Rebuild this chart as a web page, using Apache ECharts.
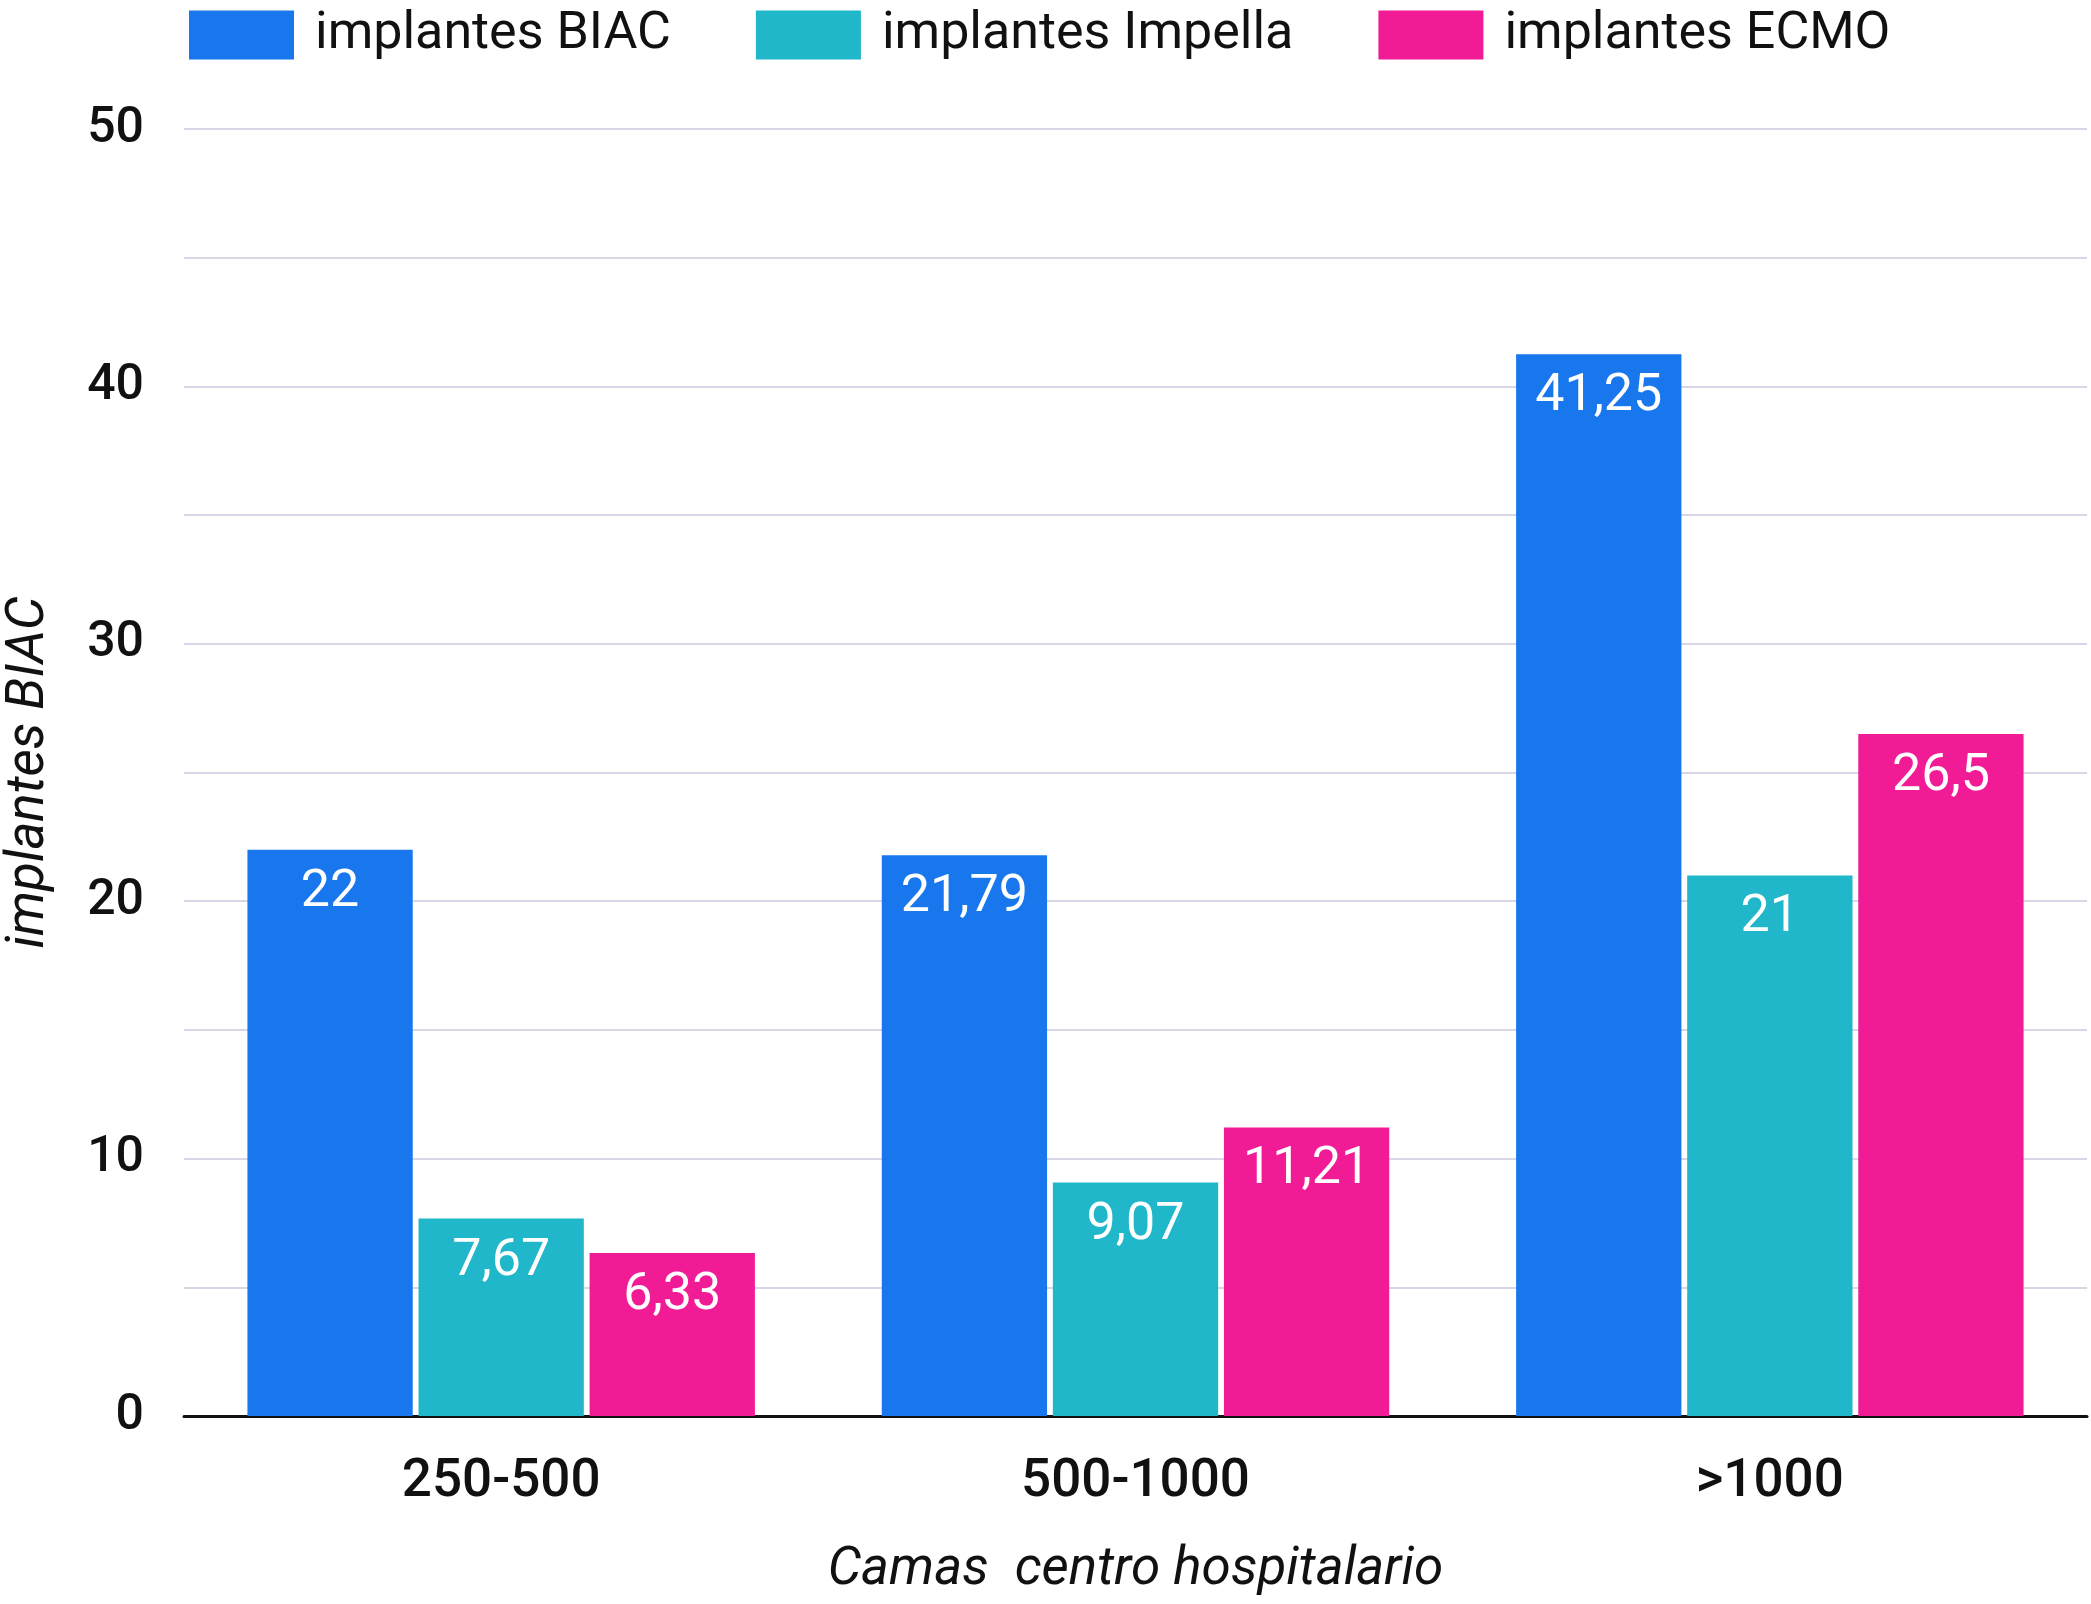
<!DOCTYPE html>
<html><head><meta charset="utf-8">
<script src="https://cdn.jsdelivr.net/npm/echarts@6/dist/echarts.min.js"></script>
<style>html,body{margin:0;padding:0;background:#fff}#c{width:2091px;height:1604px}</style>
</head><body><div id="c"></div>
<script>
const categories = ['250-500', '500-1000', '>1000'];
const biac = [22, 21.79, 41.25];
const impella = [7.67, 9.07, 21];
const ecmo = [6.33, 11.21, 26.5];
const seriesNames = ['implantes BIAC', 'implantes Impella', 'implantes ECMO'];
const colors = ['#1877ec', '#1fb7c9', '#f21b96'];

const chart = echarts.init(document.getElementById('c'));
const fmt = p => String(p.value).replace('.', ',');
function mk(name, data, color) {
  return {
    name, type: 'bar', data,
    itemStyle: { color },
    barGap: '3.5%', barCategoryGap: '20%',
    label: { show: true, position: 'insideTop', distance: 17, color: '#fff',
      fontFamily: 'Roboto', fontSize: 52, formatter: fmt }
  };
}
chart.setOption({
  animation: false,
  textStyle: { fontFamily: 'Roboto' },
  legend: {
    left: 184, top: 4, itemWidth: 105, itemHeight: 49, itemGap: 85,
    icon: 'rect',
    textStyle: { fontFamily: 'Roboto', fontSize: 52, color: '#111', padding: [0, 0, 0, 16] },
    data: seriesNames
  },
  grid: { left: 184, right: 4, top: 129, bottom: 188, outerBoundsMode: 'none', containLabel: false },
  xAxis: {
    type: 'category', data: categories,
    name: 'Camas  centro hospitalario', nameLocation: 'middle', nameGap: 128,
    nameTextStyle: { fontFamily: 'Roboto', fontStyle: 'italic', fontSize: 53, color: '#111' },
    axisLine: { lineStyle: { color: '#111', width: 3 } },
    axisTick: { show: false },
    axisLabel: { fontFamily: 'Roboto', fontSize: 53, fontWeight: 500, color: '#111', margin: 40 }
  },
  yAxis: {
    type: 'value', min: 0, max: 50, interval: 5,
    name: 'implantes BIAC', nameLocation: 'middle', nameGap: 128, nameRotate: 90,
    nameTextStyle: { fontFamily: 'Roboto', fontStyle: 'italic', fontSize: 53, color: '#111' },
    axisLine: { show: false }, axisTick: { show: false },
    splitLine: { lineStyle: { color: '#d9d6e8', width: 2 } },
    axisLabel: { fontFamily: 'Roboto', fontSize: 50, fontWeight: 500, color: '#111', margin: 40,
      formatter: v => (v % 10 === 0 ? String(v) : '') }
  },
  series: [mk(seriesNames[0], biac, colors[0]), mk(seriesNames[1], impella, colors[1]), mk(seriesNames[2], ecmo, colors[2])]
});
</script></body></html>
